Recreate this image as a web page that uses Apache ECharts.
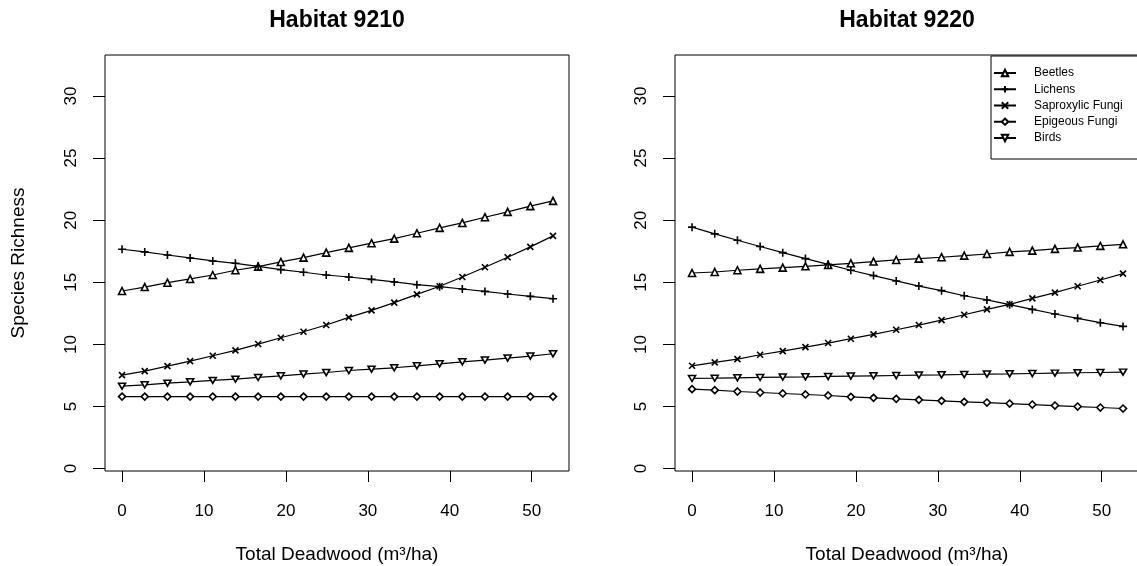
<!DOCTYPE html>
<html><head><meta charset="utf-8">
<script src="https://cdn.jsdelivr.net/npm/echarts@6/dist/echarts.min.js"></script>
<style>html,body{margin:0;padding:0;background:#fff}#c{width:1137px;height:566px}</style>
</head><body><div id="c"></div>
<script>
// ---- data ----
const deadwood = [0, 2.77, 5.54, 8.31, 11.07, 13.84, 16.61, 19.38, 22.15, 24.92, 27.68, 30.45, 33.22, 35.99, 38.76, 41.53, 44.29, 47.06, 49.83, 52.6];
const panelTitles = ['Habitat 9210', 'Habitat 9220'];
const seriesNames = ['Beetles', 'Lichens', 'Saproxylic Fungi', 'Epigeous Fungi', 'Birds'];
const xTicks = [0, 10, 20, 30, 40, 50];
const yTicks = [0, 5, 10, 15, 20, 25, 30];

const beetles9210 = [14.30, 14.62, 14.97, 15.27, 15.59, 15.97, 16.26, 16.64, 16.99, 17.39, 17.77, 18.15, 18.52, 18.95, 19.38, 19.78, 20.24, 20.67, 21.13, 21.56];
const lichens9210 = [17.66, 17.45, 17.20, 16.96, 16.72, 16.53, 16.29, 16.02, 15.81, 15.59, 15.43, 15.24, 15.03, 14.81, 14.65, 14.46, 14.27, 14.06, 13.87, 13.68];
const saproxylic9210 = [7.53, 7.85, 8.25, 8.66, 9.09, 9.52, 10.03, 10.54, 11.02, 11.56, 12.18, 12.74, 13.36, 14.03, 14.68, 15.43, 16.21, 17.02, 17.85, 18.74];
const epigeous9210 = [5.8, 5.8, 5.8, 5.8, 5.8, 5.8, 5.8, 5.8, 5.8, 5.8, 5.8, 5.8, 5.8, 5.8, 5.8, 5.8, 5.8, 5.8, 5.8, 5.8];
const birds9210 = [6.64, 6.75, 6.88, 6.99, 7.10, 7.20, 7.34, 7.47, 7.61, 7.74, 7.90, 8.01, 8.12, 8.28, 8.44, 8.60, 8.74, 8.90, 9.06, 9.25];

const beetles9220 = [15.75, 15.83, 15.97, 16.08, 16.18, 16.29, 16.40, 16.53, 16.67, 16.80, 16.91, 17.02, 17.15, 17.28, 17.45, 17.55, 17.69, 17.80, 17.93, 18.06];
const lichens9220 = [19.44, 18.90, 18.39, 17.88, 17.39, 16.91, 16.45, 15.97, 15.54, 15.11, 14.70, 14.33, 13.92, 13.58, 13.20, 12.82, 12.45, 12.10, 11.75, 11.45];
const saproxylic9220 = [8.28, 8.55, 8.82, 9.17, 9.46, 9.78, 10.11, 10.46, 10.81, 11.18, 11.56, 11.96, 12.39, 12.82, 13.23, 13.71, 14.17, 14.68, 15.19, 15.70];
const epigeous9220 = [6.40, 6.32, 6.21, 6.13, 6.05, 5.97, 5.89, 5.78, 5.70, 5.62, 5.54, 5.46, 5.38, 5.32, 5.24, 5.16, 5.08, 5.00, 4.92, 4.84];
const birds9220 = [7.26, 7.28, 7.31, 7.34, 7.37, 7.39, 7.42, 7.45, 7.47, 7.50, 7.53, 7.55, 7.58, 7.61, 7.63, 7.66, 7.69, 7.72, 7.74, 7.77];

const panels = [
  [beetles9210, lichens9210, saproxylic9210, epigeous9210, birds9210],
  [beetles9220, lichens9220, saproxylic9220, epigeous9220, birds9220]
];

// ---- styling ----
const FONT = 'Liberation Sans, Arial, Helvetica, sans-serif';
const symbols = [
  {symbol: 'triangle', size: 7},
  {symbol: 'path://M0,5L10,5M5,0L5,10', size: 8},
  {symbol: 'path://M0,0L10,10M10,0L0,10', size: 6},
  {symbol: 'diamond', size: 7},
  {symbol: 'path://M0,0L10,0L5,8.66Z', size: [7, 6]}
];
const grids = [
  {left: 105, top: 55, width: 464, height: 416},
  {left: 675, top: 55, width: 464, height: 416}
];

const series = [];
panels.forEach((arrs, p) => {
  arrs.forEach((vals, s) => {
    series.push({
      type: 'line', name: seriesNames[s], xAxisIndex: p, yAxisIndex: p,
      data: deadwood.map((x, i) => [x, vals[i]]),
      symbol: symbols[s].symbol, symbolSize: symbols[s].size,
      showAllSymbol: true,
      lineStyle: {color: '#000', width: 1.2},
      itemStyle: {color: '#fff', borderColor: '#000', borderWidth: 1.6},
      emphasis: {disabled: true},
      z: 3
    });
  });
});

const option = {
  animation: false,
  backgroundColor: '#fff',
  textStyle: {fontFamily: FONT},
  title: panelTitles.map((t, i) => ({
    text: t, left: grids[i].left + 232, top: 9, textAlign: 'center', padding: 0,
    textStyle: {fontSize: 23, fontWeight: 'bold', color: '#000', fontFamily: FONT}
  })),
  legend: {
    show: true, orient: 'vertical', left: 991, top: 56,
    data: seriesNames,
    itemWidth: 22, itemHeight: 8, itemGap: 4.25,
    padding: [11, 30, 15, 2],
    borderColor: '#000', borderWidth: 1, backgroundColor: '#fff',
    textStyle: {fontSize: 12, lineHeight: 12, color: '#000', fontFamily: FONT, padding: [0, 0, 0, 13]},
    selectedMode: false
  },
  grid: grids.map(g => Object.assign({show: true, borderColor: '#000', borderWidth: 1, backgroundColor: 'transparent', containLabel: false, outerBoundsMode: 'none'}, g)),
  xAxis: grids.map((g, i) => ({
    type: 'value', gridIndex: i, min: -2.08, max: 54.55,
    axisLine: {show: false, onZero: false},
    axisTick: {show: true, inside: false, length: 11, customValues: xTicks, lineStyle: {color: '#000', width: 1}},
    axisLabel: {customValues: xTicks, margin: 32, fontSize: 17, color: '#000', fontFamily: FONT},
    splitLine: {show: false},
    name: 'Total Deadwood (m³/ha)', nameLocation: 'middle', nameGap: 74,
    nameTextStyle: {fontSize: 19, color: '#000', fontFamily: FONT}
  })),
  yAxis: grids.map((g, i) => ({
    type: 'value', gridIndex: i, min: -0.19, max: 33.3,
    axisLine: {show: false, onZero: false},
    axisTick: {show: true, inside: false, length: 12, customValues: yTicks, lineStyle: {color: '#000', width: 1}},
    axisLabel: {customValues: yTicks, rotate: 90, margin: 25, fontSize: 17, color: '#000', fontFamily: FONT},
    splitLine: {show: false},
    name: i === 0 ? 'Species Richness' : '', nameLocation: 'middle', nameGap: 77,
    nameTextStyle: {fontSize: 19, color: '#000', fontFamily: FONT}
  })),
  series: series
};

const chart = echarts.init(document.getElementById('c'), null, {renderer: 'canvas'});
chart.setOption(option);
</script>
</body></html>
